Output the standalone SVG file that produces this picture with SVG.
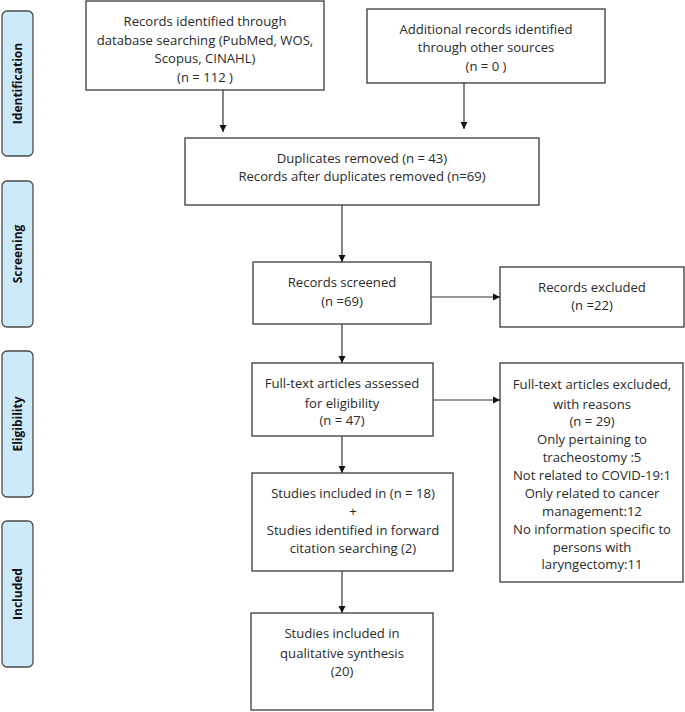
<svg xmlns="http://www.w3.org/2000/svg" width="685" height="712" viewBox="0 0 685 712">
<style>
.box{fill:#fff;stroke:#3a3a3a;stroke-width:1.3}
.side{fill:#cdeafb;stroke:#4a4a4a;stroke-width:1.3}
.t{font-family:"Open Sans","Liberation Sans",Arial,sans-serif;font-size:13.1px;fill:#2a2a2a;text-anchor:middle}
.s{font-family:"Open Sans","Liberation Sans",Arial,sans-serif;font-size:12px;font-weight:bold;fill:#111;text-anchor:middle}
.c{stroke:#333;stroke-width:1.2;fill:none;marker-end:url(#ah)}
</style>
<defs>
<marker id="ah" markerUnits="userSpaceOnUse" markerWidth="8" markerHeight="8" refX="7" refY="4" orient="auto">
<path d="M0,0.5 L7,4 L0,7.5 z" fill="#111"/>
</marker>
</defs>
<rect width="685" height="712" fill="#fff"/>
<g id="side-identification"><rect class="side" x="2" y="11" width="31" height="145" rx="5"/><text class="s" transform="translate(22,83.5) rotate(-90)">Identification</text></g>
<g id="side-screening"><rect class="side" x="2" y="181" width="31" height="146" rx="5"/><text class="s" transform="translate(22,254) rotate(-90)">Screening</text></g>
<g id="side-eligibility"><rect class="side" x="2" y="351" width="31" height="146" rx="5"/><text class="s" transform="translate(22,424) rotate(-90)">Eligibility</text></g>
<g id="side-included"><rect class="side" x="2" y="521" width="31" height="146" rx="5"/><text class="s" transform="translate(22,594) rotate(-90)">Included</text></g>

<g id="connectors">
<line class="c" x1="223" y1="90" x2="223" y2="132"/>
<line class="c" x1="464" y1="83" x2="464" y2="129"/>
<line class="c" x1="342" y1="205" x2="342" y2="262"/>
<line class="c" x1="431" y1="297" x2="500" y2="297"/>
<line class="c" x1="342" y1="324" x2="342" y2="363"/>
<line class="c" x1="433" y1="400" x2="500" y2="400"/>
<line class="c" x1="342" y1="436" x2="342" y2="473"/>
<line class="c" x1="342" y1="571" x2="342" y2="613"/>
</g>

<g id="n-db"><rect class="box" x="86" y="1" width="238" height="89"/>
<text class="t" x="205" y="25.5">Records identified through</text>
<text class="t" x="205" y="44.5">database searching (PubMed, WOS,</text>
<text class="t" x="205" y="62.5">Scopus, CINAHL)</text>
<text class="t" x="205" y="81.5">(n = 112  )</text></g>

<g id="n-other"><rect class="box" x="367" y="9" width="238" height="74"/>
<text class="t" x="486" y="33.5">Additional records identified</text>
<text class="t" x="486" y="51.5">through other sources</text>
<text class="t" x="486" y="70.5">(n = 0 )</text></g>

<g id="n-dup"><rect class="box" x="185" y="138" width="354" height="67"/>
<text class="t" x="362" y="162.5">Duplicates removed (n = 43)</text>
<text class="t" x="362" y="180.5">Records after duplicates removed (n=69)</text></g>

<g id="n-screened"><rect class="box" x="253" y="262" width="178" height="62"/>
<text class="t" x="342" y="286.5">Records screened</text>
<text class="t" x="342" y="305.5">(n =69)</text></g>

<g id="n-excluded"><rect class="box" x="500" y="267" width="184" height="60"/>
<text class="t" x="592" y="291.5">Records excluded</text>
<text class="t" x="592" y="309.5">(n =22)</text></g>

<g id="n-fulltext"><rect class="box" x="252" y="363" width="181" height="73"/>
<text class="t" x="342" y="387.5">Full-text articles assessed</text>
<text class="t" x="342" y="407.5">for eligibility</text>
<text class="t" x="342" y="424.5">(n = 47)</text></g>

<g id="n-ftexcluded"><rect class="box" x="500" y="363" width="183" height="219"/>
<text class="t" x="592" y="388.5">Full-text articles excluded,</text>
<text class="t" x="592" y="408.5">with reasons</text>
<text class="t" x="592" y="425.5">(n = 29)</text>
<text class="t" x="592" y="443.5">Only pertaining to</text>
<text class="t" x="592" y="461.5">tracheostomy :5</text>
<text class="t" x="592" y="479.5">Not related to COVID-19:1</text>
<text class="t" x="592" y="497.5">Only related to cancer</text>
<text class="t" x="592" y="515.5">management:12</text>
<text class="t" x="592" y="533.5">No information specific to</text>
<text class="t" x="592" y="551.5">persons with</text>
<text class="t" x="592" y="568.5">laryngectomy:11</text></g>

<g id="n-studies"><rect class="box" x="252" y="473" width="201" height="98"/>
<text class="t" x="353" y="497.5">Studies included in (n = 18)</text>
<text class="t" x="353" y="515.5">+</text>
<text class="t" x="353" y="534.5">Studies identified in forward</text>
<text class="t" x="353" y="552.5">citation searching (2)</text></g>

<g id="n-final"><rect class="box" x="251" y="613" width="182" height="97"/>
<text class="t" x="342" y="637.5">Studies included in</text>
<text class="t" x="342" y="657.5">qualitative synthesis</text>
<text class="t" x="342" y="675.5">(20)</text></g>
</svg>
